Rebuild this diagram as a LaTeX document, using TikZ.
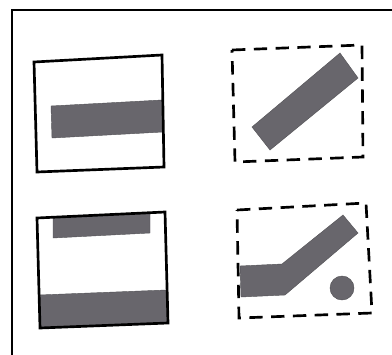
\documentclass[tikz,border=0pt]{standalone}
\usepackage{tikz}
\definecolor{bargray}{RGB}{104,102,108}
\begin{document}
\begin{tikzpicture}[x=0.025cm, y=-0.025cm,
  frame/.style={draw=black, line width=1.6pt},
  cell/.style={draw=black, line width=1.9pt, line join=miter},
  dashcell/.style={draw=black, line width=1.9pt, dash pattern=on 9.5pt off 6pt},
  bar/.style={fill=bargray, draw=bargray!80!black, line width=0.3pt}
]
\useasboundingbox (0,0) rectangle (392,354);
\clip (0,0) rectangle (392,354);
% outer frame
\draw[frame] (12,10) rectangle (396,360);
% top left: level bar
\fill[bar] (51,106) -- (162,100) -- (163,132) -- (52,138) -- cycle;
\draw[cell] (34,62) -- (162,55) -- (164,167) -- (37,172) -- cycle;
% top right: tilted bar
\draw[dashcell] (232,50) -- (362,45) -- (363,157) -- (235,162) -- cycle;
\fill[bar] (252,127) -- (340,53) -- (358,78) -- (270,150) -- cycle;
% bottom left: two bars
\fill[bar] (53,217) -- (150,213) -- (150,233) -- (53,238) -- cycle;
\fill[bar] (39,295) -- (166,290) -- (168,323) -- (40,328) -- cycle;
\draw[cell] (37,218) -- (165,212) -- (168,323) -- (40,328) -- cycle;
% bottom right: bent bar and ball
\draw[dashcell] (237,210) -- (366,203) -- (372,313) -- (239,318) -- cycle;
\fill[bar] (240,266) -- (282,264) -- (343,215) -- (358,233) -- (285,295) -- (241,297) -- cycle;
\fill[bar] (342,288) circle (12);
\end{tikzpicture}
\end{document}
